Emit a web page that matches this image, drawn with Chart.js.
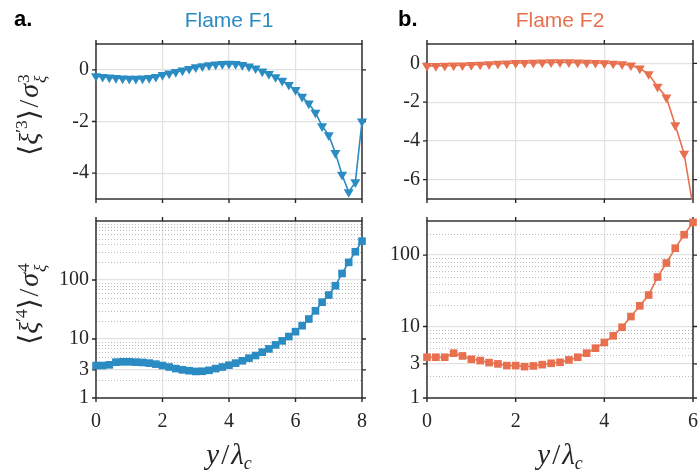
<!DOCTYPE html>
<html>
<head>
<meta charset="utf-8">
<script src="https://cdn.jsdelivr.net/npm/chart.js@4.4.0/dist/chart.umd.min.js"></script>
<style>
  body { margin: 0; background: #fff; }
  #wrap { position: relative; width: 700px; height: 472px; overflow: hidden; background: #fff; }
  .panel { position: absolute; }
  .panel canvas { display: block; }
  .lbl { position: absolute; white-space: nowrap; line-height: 1; }
  .tag { font-family: "Liberation Sans", Arial, sans-serif; font-weight: bold; font-size: 22px; color: #000; }
  .ttl { font-family: "Liberation Sans", Arial, sans-serif; font-size: 21px; transform: translate(-50%, -50%); }
  .math { font-family: "Liberation Serif", "DejaVu Serif", serif; color: #262626; }
  .ytl { font-size: 28px; transform: translate(-50%, -50%) rotate(-90deg); }
  .xtl { font-size: 29px; transform: translate(-50%, -50%); }
  .math i { font-style: italic; }
  .math sup { font-size: 0.62em; vertical-align: 0.62em; }
  .math sub { font-size: 0.62em; vertical-align: -0.3em; }
  .sl { margin: 0 0.07em; }
  .ss { display: inline-block; font-size: 0.62em; line-height: 0.95; vertical-align: -0.45em; margin-left: 0.05em; }
  .ss span { display: block; }
</style>
</head>
<body>
<div id="wrap">
  <div class="panel" style="left:0;top:0;width:380px;height:215px"><canvas id="skew1" width="380" height="215"></canvas></div>
  <div class="panel" style="left:380px;top:0;width:320px;height:215px"><canvas id="skew2" width="320" height="215"></canvas></div>
  <div class="panel" style="left:0;top:215px;width:380px;height:257px"><canvas id="kurt1" width="380" height="257"></canvas></div>
  <div class="panel" style="left:380px;top:215px;width:320px;height:257px"><canvas id="kurt2" width="320" height="257"></canvas></div>

  <div class="lbl tag" style="left:14px;top:8px">a.</div>
  <div class="lbl tag" style="left:398px;top:8px">b.</div>
  <div class="lbl ttl" style="left:229px;top:19px;color:#2b8cc3">Flame F1</div>
  <div class="lbl ttl" style="left:560px;top:19px;color:#e8704f">Flame F2</div>

  <div class="lbl math ytl" style="left:31px;top:115px">⟨<i>ξ</i><sup>′3</sup>⟩<span class="sl">/</span><i>σ</i><span class="ss"><span>3</span><span><i>ξ</i></span></span></div>
  <div class="lbl math ytl" style="left:31px;top:304px">⟨<i>ξ</i><sup>′4</sup>⟩<span class="sl">/</span><i>σ</i><span class="ss"><span>4</span><span><i>ξ</i></span></span></div>

  <div class="lbl math xtl" style="left:229px;top:456px"><i>y</i><span class="sl">/</span><i>λ</i><sub><i>c</i></sub></div>
  <div class="lbl math xtl" style="left:560px;top:456px"><i>y</i><span class="sl">/</span><i>λ</i><sub><i>c</i></sub></div>
</div>

<script>
// positions along the flame, y / lambda_c
const xF1 = [0, 0.2, 0.4, 0.6, 0.8, 1.0, 1.2, 1.4, 1.6, 1.8, 2.0, 2.2, 2.4, 2.6, 2.8, 3.0, 3.2, 3.4, 3.6, 3.8,
             4.0, 4.2, 4.4, 4.6, 4.8, 5.0, 5.2, 5.4, 5.6, 5.8, 6.0, 6.2, 6.4, 6.6, 6.8, 7.0, 7.2, 7.4, 7.6, 7.8, 8.0];
const xF2 = [0, 0.2, 0.4, 0.6, 0.8, 1.0, 1.2, 1.4, 1.6, 1.8, 2.0, 2.2, 2.4, 2.6, 2.8, 3.0, 3.2, 3.4, 3.6, 3.8,
             4.0, 4.2, 4.4, 4.6, 4.8, 5.0, 5.2, 5.4, 5.6, 5.8, 6.0];

// skewness  <xi'^3>/sigma^3
const skewF1 = [-0.24, -0.27, -0.29, -0.31, -0.33, -0.34, -0.34, -0.33, -0.31, -0.27, -0.20, -0.14, -0.08, -0.02, 0.04,
                0.10, 0.14, 0.18, 0.21, 0.23, 0.24, 0.23, 0.19, 0.13, 0.06, -0.06, -0.16, -0.28, -0.42, -0.58,
                -0.78, -1.04, -1.30, -1.66, -2.18, -2.53, -3.22, -4.06, -4.73, -4.35, -2.0];
const skewF2 = [-0.13, -0.13, -0.12, -0.11, -0.10, -0.08, -0.06, -0.04, -0.02, 0.0, 0.02, 0.03, 0.04, 0.05, 0.06,
                0.06, 0.06, 0.05, 0.04, 0.03, 0.01, -0.01, -0.04, -0.10, -0.26, -0.55, -1.20, -1.76, -3.19, -4.66, -7.4];

// kurtosis  <xi'^4>/sigma^4
const kurtF1 = [3.55, 3.55, 3.65, 4.05, 4.1, 4.1, 4.05, 4.0, 3.9, 3.75, 3.55, 3.35, 3.15, 3.0, 2.9, 2.82, 2.84, 2.95,
                3.15, 3.35, 3.6, 3.9, 4.27, 4.74, 5.25, 5.98, 6.8, 7.95, 9.3, 11, 13.3, 16.8, 21.8, 30, 42, 55.6,
                80, 129, 199, 301, 455];
const kurtF2 = [3.72, 3.72, 3.72, 4.24, 3.88, 3.48, 3.34, 3.13, 3.0, 2.84, 2.84, 2.75, 2.81, 2.93, 3.06, 3.16, 3.41,
                3.72, 4.24, 4.98, 5.97, 7.41, 9.78, 13.8, 19.5, 27.6, 49.3, 77.5, 125, 193, 287];

// tick values
const xTicksF1 = [0, 2, 4, 6, 8];
const xTicksF2 = [0, 2, 4, 6];
const skewTicksF1 = [-4, -2, 0];
const skewTicksF2 = [-6, -4, -2, 0];
const kurtTicks = [1, 3, 10, 100];
const kurtMinor = [2, 4, 5, 6, 7, 8, 9, 20, 30, 40, 50, 60, 70, 80, 90, 200, 300, 400, 500, 600, 700, 800, 900];

const blue = '#2b8cc3';
const orange = '#e8704f';
const axisColor = '#262626';
const tickFont = { family: '"Liberation Serif", "DejaVu Serif", serif', size: 20 };

// box, outward ticks on all four sides, dotted minor grid
const framePlugin = {
    id: 'frame',
    beforeDatasetsDraw(chart, args, opts) {
        let ctx = chart.ctx;
        let a = chart.chartArea;
        let sx = chart.scales.x;
        let sy = chart.scales.y;
        ctx.save();
        if (opts.minor) {
            ctx.strokeStyle = '#b9b9b9';
            ctx.lineWidth = 1;
            ctx.setLineDash([1, 2]);
            opts.minor.forEach(v => {
                if (v >= sy.max) return;
                let y = Math.round(sy.getPixelForValue(v)) + 0.5;
                ctx.beginPath();
                ctx.moveTo(a.left, y);
                ctx.lineTo(a.right, y);
                ctx.stroke();
            });
            ctx.setLineDash([]);
        }
        ctx.strokeStyle = axisColor;
        ctx.lineWidth = 1.4;
        ctx.strokeRect(a.left, a.top, a.right - a.left, a.bottom - a.top);
        ctx.beginPath();
        opts.xt.forEach(v => {
            let x = sx.getPixelForValue(v);
            ctx.moveTo(x, a.bottom); ctx.lineTo(x, a.bottom + 4);
            ctx.moveTo(x, a.top); ctx.lineTo(x, a.top - 4);
        });
        opts.yt.forEach(v => {
            let y = sy.getPixelForValue(v);
            ctx.moveTo(a.left, y); ctx.lineTo(a.left - 4, y);
            ctx.moveTo(a.right, y); ctx.lineTo(a.right + 4, y);
        });
        ctx.stroke();
        ctx.restore();
    }
};

function makePanel(id, p) {
    let pts = p.xs.map((x, i) => ({ x: x, y: p.ys[i] }));
    return new Chart(document.getElementById(id), {
        type: 'line',
        data: {
            datasets: [{
                data: pts,
                borderColor: p.color,
                backgroundColor: p.color,
                borderWidth: 1.6,
                tension: 0,
                pointStyle: p.marker,
                pointRotation: p.rot,
                pointRadius: p.r,
                pointBorderWidth: 0,
                clip: p.clip
            }]
        },
        options: {
            responsive: false,
            animation: false,
            devicePixelRatio: 1,
            layout: { padding: { left: 0, top: p.top, right: p.right, bottom: 0 } },
            plugins: {
                legend: { display: false },
                tooltip: { enabled: false },
                frame: { xt: p.xTicks, yt: p.yTicks, minor: p.minor }
            },
            scales: {
                x: {
                    type: 'linear',
                    min: p.xMin,
                    max: p.xMax,
                    afterBuildTicks: s => { s.ticks = p.xTicks.map(v => ({ value: v })); },
                    afterFit: s => {
                        s.height = p.xH;
                        s.paddingLeft = 0; s.paddingRight = 0; s.paddingTop = 0; s.paddingBottom = 0;
                    },
                    grid: { color: '#e2e2e2', lineWidth: 1.2, drawTicks: false },
                    border: { display: false },
                    ticks: {
                        display: p.xLabels,
                        font: tickFont,
                        color: axisColor,
                        padding: 12,
                        maxRotation: 0,
                        autoSkip: false,
                        callback: v => String(v)
                    }
                },
                y: {
                    type: p.log ? 'logarithmic' : 'linear',
                    min: p.yMin,
                    max: p.yMax,
                    afterBuildTicks: s => { s.ticks = p.yTicks.map(v => ({ value: v })); },
                    afterFit: s => {
                        s.width = p.yW;
                        s.paddingLeft = 0; s.paddingRight = 0; s.paddingTop = 0; s.paddingBottom = 0;
                    },
                    grid: { color: '#e2e2e2', lineWidth: 1.2, drawTicks: false },
                    border: { display: false },
                    ticks: {
                        font: tickFont,
                        color: axisColor,
                        padding: 7,
                        autoSkip: false,
                        callback: v => String(v)
                    }
                }
            }
        },
        plugins: [framePlugin]
    });
}

makePanel('skew1', {
    xs: xF1, ys: skewF1, color: blue, marker: 'triangle', rot: 180, r: 5.8,
    clip: { left: 8, right: 8, top: 8, bottom: 8 },
    top: 44, right: 18, xH: 16, yW: 96, xLabels: false,
    xMin: 0, xMax: 8, xTicks: xTicksF1, yMin: -5, yMax: 1, yTicks: skewTicksF1, log: false
});

makePanel('skew2', {
    xs: xF2, ys: skewF2, color: orange, marker: 'triangle', rot: 180, r: 5.8,
    clip: { left: 8, right: 8, top: 8, bottom: 1 },
    top: 44, right: 7, xH: 16, yW: 47, xLabels: false,
    xMin: 0, xMax: 6, xTicks: xTicksF2, yMin: -7, yMax: 1, yTicks: skewTicksF2, log: false
});

makePanel('kurt1', {
    xs: xF1, ys: kurtF1, color: blue, marker: 'rect', rot: 0, r: 5.4,
    clip: { left: 8, right: 8, top: 8, bottom: 8 },
    top: 6, right: 18, xH: 74, yW: 96, xLabels: true,
    xMin: 0, xMax: 8, xTicks: xTicksF1, yMin: 1, yMax: 1000, yTicks: kurtTicks, log: true, minor: kurtMinor
});

makePanel('kurt2', {
    xs: xF2, ys: kurtF2, color: orange, marker: 'rect', rot: 0, r: 5.4,
    clip: { left: 8, right: 8, top: 8, bottom: 8 },
    top: 6, right: 7, xH: 74, yW: 47, xLabels: true,
    xMin: 0, xMax: 6, xTicks: xTicksF2, yMin: 1, yMax: 300, yTicks: kurtTicks, log: true, minor: kurtMinor
});
</script>
</body>
</html>
